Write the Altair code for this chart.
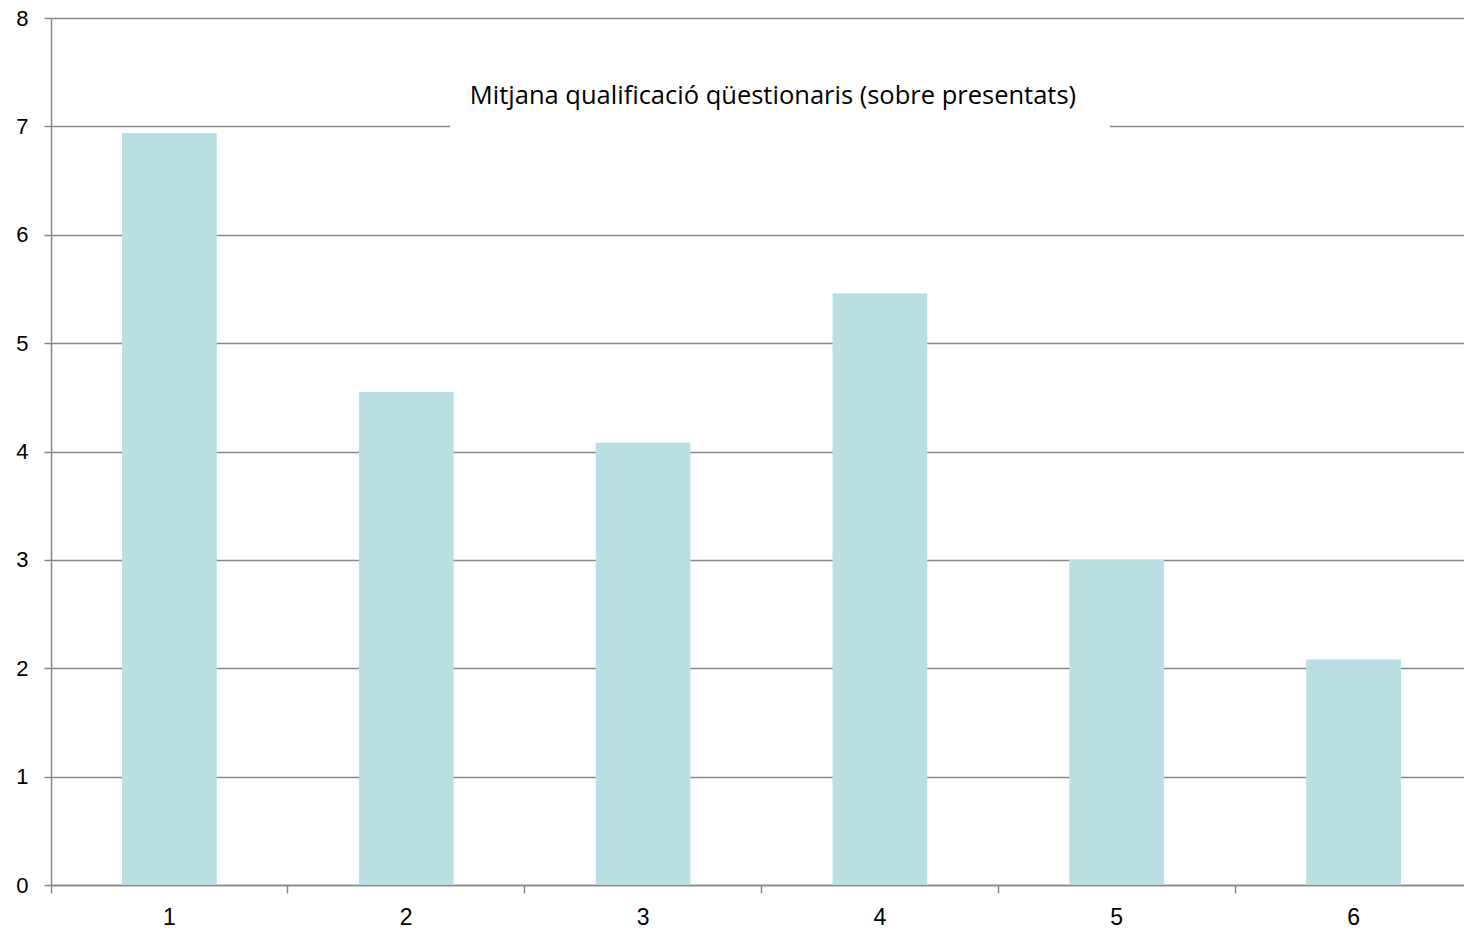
import altair as alt
import pandas as pd

CATEGORIES = ["1", "2", "3", "4", "5", "6"]
VALUES = [6.94, 4.55, 4.08, 5.46, 3.00, 2.08]
TITLE = "Mitjana qualificació qüestionaris (sobre presentats)"
Y_TICKS = [0, 1, 2, 3, 4, 5, 6, 7, 8]

W_VIEW = 1413   # visible plot width (page limit)
W_SCALE = 1421  # scale range as in the reference (extends to the window edge)
H = 867
GRID = "#888888"

df = pd.DataFrame({"cat": CATEGORIES, "val": VALUES})
base = alt.Chart(df)

x_enc = alt.X(
    "cat:N",
    sort=CATEGORIES,
    scale=alt.Scale(paddingInner=0, paddingOuter=0, range=[0, W_SCALE]),
    axis=alt.Axis(
        title=None,
        labelAngle=0,
        labelFont="Liberation Sans",
        labelFontSize=23,
        labelColor="#000000",
        labelPadding=13,
        bandPosition=0,
        tickColor=GRID,
        tickSize=8,
        tickWidth=1.5,
        domainColor=GRID,
        domainWidth=1.5,
        grid=False,
    ),
)

y_enc = alt.Y(
    "val:Q",
    scale=alt.Scale(domain=[0, 8], nice=False),
    axis=alt.Axis(
        title=None,
        values=Y_TICKS,
        labelFont="Liberation Sans",
        labelFontSize=22,
        labelColor="#000000",
        labelPadding=16,
        tickColor=GRID,
        tickSize=7,
        tickWidth=1.5,
        domainColor=GRID,
        domainWidth=1.5,
        grid=True,
        gridColor=GRID,
        gridWidth=1.5,
    ),
)

bars = base.mark_bar(color="#B9DFE2", width=alt.RelativeBandSize(0.4)).encode(
    x=x_enc, y=y_enc
)

box = alt.Chart(pd.DataFrame({"t": [TITLE]})).mark_rect(color="white").encode(
    x=alt.value(399), x2=alt.value(1059), y=alt.value(50), y2=alt.value(116)
)

title = alt.Chart(pd.DataFrame({"t": [TITLE]})).mark_text(
    font="Open Sans", fontSize=25.5, color="#000000", align="center", baseline="alphabetic"
).encode(text="t:N", x=alt.value(722), y=alt.value(86))

chart = (
    alt.layer(bars, box, title)
    .properties(
        width=W_VIEW,
        height=H,
        autosize=alt.AutoSizeParams(type="none"),
        padding={"left": 43, "top": 10, "right": 0, "bottom": 46},
    )
    .configure_view(stroke=None)
    .configure(background="white")
)

chart.save("out.html", embed_options={"renderer": "svg", "actions": False})
